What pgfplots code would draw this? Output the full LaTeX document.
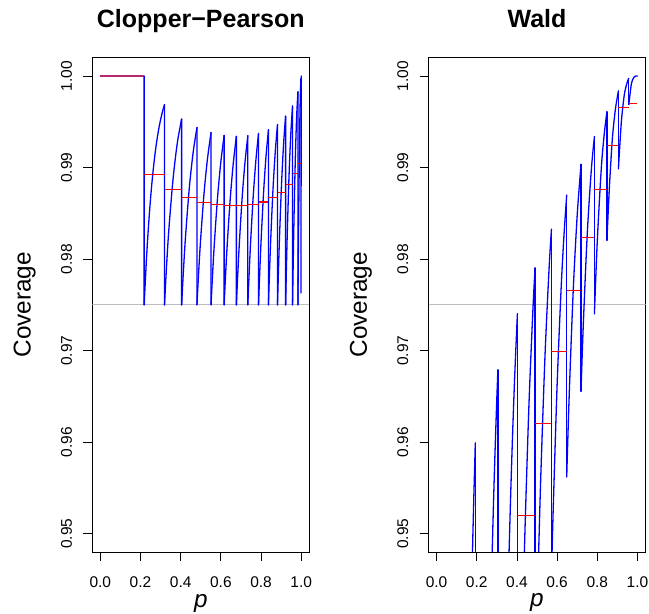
\documentclass[border=0pt]{standalone}
\usepackage{pgfplots}
\pgfplotsset{compat=1.18}
\usepackage{fontspec}
\setmainfont{Liberation Sans}
\definecolor{rgray}{RGB}{190,190,190}
\definecolor{rblue}{RGB}{0,0,255}
\definecolor{rred}{RGB}{255,0,0}
\pgfplotsset{
  rpanel/.style={
    scale only axis, width=217pt, height=494.3pt,
    xmin=-0.04, xmax=1.04, ymin=0.948, ymax=1.002,
    axis line style={black, line width=0.8pt},
    tick align=outside, tick pos=left,
    major tick length=9pt,
    tick style={black, line width=0.8pt},
    xtick={0,0.2,0.4,0.6,0.8,1},
    xticklabels={0.0,0.2,0.4,0.6,0.8,1.0},
    ytick={0.95,0.96,0.97,0.98,0.99,1},
    yticklabels={0.95,0.96,0.97,0.98,0.99,1.00},
    /pgf/number format/assume math mode=true,
    ticklabel style={font=\fontsize{15.5}{18}\selectfont},
    xticklabel style={anchor=base, yshift=-26.8pt},
    yticklabel style={xshift=-11.3pt, rotate=90, anchor=base},
    every axis title/.style={at={(axis description cs:0.5,1)}, anchor=base, yshift=30.4pt, font=\bfseries\fontsize{25}{30}\selectfont},
    every axis x label/.style={at={(axis description cs:0.5,0)}, anchor=base, yshift=-55pt, font=\fontsize{24.3}{29}\selectfont},
    every axis y label/.style={at={(axis description cs:0,0.5)}, xshift=-61.6pt, rotate=90, anchor=base, font=\fontsize{24.3}{29}\selectfont},
    xlabel={\textit{p}}, ylabel={Coverage},
  },
  bl/.style={rblue, line width=1.3pt, line cap=round, line join=round},
  bs/.style={rblue, line width=1.3pt, line cap=round, line join=round, smooth},
  rs/.style={rred, line width=1.2pt},
}
\begin{document}
\begin{tikzpicture}[x=1pt,y=1pt]
\path[use as bounding box] (0,0) rectangle (649,614);
% ---------------- Clopper-Pearson ----------------
\begin{axis}[rpanel, at={(92.3pt,62pt)}, anchor=south west, title={Clopper−Pearson}]
\addplot[rgray, line width=0.9pt] coordinates {(-0.04,0.975) (1.04,0.975)};
% vertical drops and flat start
\addplot[bl, unbounded coords=jump] coordinates {
(0,1) (0.218,1) (0.218,0.975) (0.218,nan)
(0.3195,0.99688) (0.3195,0.975) (0.3195,nan)
(0.4046,0.99530) (0.4046,0.975) (0.4046,nan)
(0.4809,0.99438) (0.4809,0.975) (0.4809,nan)
(0.5510,0.99382) (0.5510,0.975) (0.5510,nan)
(0.6162,0.99351) (0.6162,0.975) (0.6162,nan)
(0.6771,0.99341) (0.6771,0.975) (0.6771,nan)
(0.7341,0.99348) (0.7341,0.975) (0.7341,nan)
(0.7873,0.99372) (0.7873,0.975) (0.7873,nan)
(0.8366,0.99413) (0.8366,0.975) (0.8366,nan)
(0.8818,0.99470) (0.8818,0.975) (0.8818,nan)
(0.9221,0.99561) (0.9221,0.975) (0.9221,nan)
(0.9567,0.99672) (0.9567,0.975) (0.9567,nan)
(0.9834,0.99828) (0.9834,0.975) (0.9834,nan)
(0.99831,0.99971) (0.99831,0.9763) (0.9992,0.98807) (1,1)
};
\addplot[bs] coordinates {(0.218,0.975) (0.23,0.98017) (0.24,0.98370) (0.25,0.98664) (0.26,0.98907) (0.27,0.99109) (0.28,0.99276) (0.29,0.99413) (0.30,0.99525) (0.31,0.99617) (0.3195,0.99688)};
\addplot[bs] coordinates {(0.3195,0.975) (0.32801,0.97862) (0.340775,0.98316) (0.36205,0.98877) (0.383325,0.99272) (0.4046,0.99530)};
\addplot[bs] coordinates {(0.4046,0.975) (0.41223,0.97820) (0.423675,0.98235) (0.44275,0.98776) (0.461825,0.99164) (0.4809,0.99438)};
\addplot[bs] coordinates {(0.4809,0.975) (0.48791,0.97798) (0.498425,0.98191) (0.51595,0.98714) (0.533475,0.99100) (0.5510,0.99382)};
\addplot[bs] coordinates {(0.5510,0.975) (0.55752,0.97787) (0.5673,0.98166) (0.5836,0.98679) (0.5999,0.99065) (0.6162,0.99351)};
\addplot[bs] coordinates {(0.6162,0.975) (0.62229,0.97781) (0.631425,0.98154) (0.64665,0.98663) (0.661875,0.99051) (0.6771,0.99341)};
\addplot[bs] coordinates {(0.6771,0.975) (0.6828,0.97780) (0.69135,0.98153) (0.7056,0.98664) (0.71985,0.99055) (0.7341,0.99348)};
\addplot[bs] coordinates {(0.7341,0.975) (0.73942,0.97783) (0.7474,0.98161) (0.7607,0.98679) (0.774,0.99075) (0.7873,0.99372)};
\addplot[bs] coordinates {(0.7873,0.975) (0.79223,0.97790) (0.799625,0.98178) (0.81195,0.98709) (0.824275,0.99114) (0.8366,0.99413)};
\addplot[bs] coordinates {(0.8366,0.975) (0.84112,0.97803) (0.8479,0.98207) (0.8592,0.98756) (0.8705,0.99169) (0.8818,0.99470)};
\addplot[bs] coordinates {(0.8818,0.975) (0.88583,0.97821) (0.891875,0.98248) (0.90195,0.98826) (0.912025,0.99257) (0.9221,0.99561)};
\addplot[bs] coordinates {(0.9221,0.975) (0.92556,0.97849) (0.93075,0.98310) (0.9394,0.98926) (0.94805,0.99372) (0.9567,0.99672)};
\addplot[bs] coordinates {(0.9567,0.975) (0.95937,0.97883) (0.963375,0.98390) (0.97005,0.99063) (0.976725,0.99537) (0.9834,0.99828)};
\addplot[bs] coordinates {(0.9834,0.975) (0.984891,0.97903) (0.987128,0.98450) (0.990855,0.99188) (0.994583,0.99709) (0.99831,0.99971)};
% mean coverage per interval
\addplot[rred, opacity=0.55, line width=1.5pt] coordinates {(0,1) (0.218,1)};
\addplot[rs] coordinates {(0.218,0.98926) (0.3195,0.98926)};
\addplot[rs] coordinates {(0.3195,0.98758) (0.4046,0.98758)};
\addplot[rs] coordinates {(0.4046,0.98675) (0.4809,0.98675)};
\addplot[rs] coordinates {(0.4809,0.98620) (0.5510,0.98620)};
\addplot[rs] coordinates {(0.5510,0.98594) (0.6162,0.98594)};
\addplot[rs] coordinates {(0.6162,0.98583) (0.6771,0.98583)};
\addplot[rs] coordinates {(0.6771,0.98583) (0.7341,0.98583)};
\addplot[rs] coordinates {(0.7341,0.98598) (0.7873,0.98598)};
\addplot[rs] coordinates {(0.7873,0.98623) (0.8366,0.98623)};
\addplot[rs] coordinates {(0.8366,0.98670) (0.8818,0.98670)};
\addplot[rs] coordinates {(0.8818,0.98729) (0.9221,0.98729)};
\addplot[rs] coordinates {(0.9221,0.98817) (0.9567,0.98817)};
\addplot[rs] coordinates {(0.9567,0.98933) (0.9834,0.98933)};
\addplot[rs] coordinates {(0.9834,0.99046) (0.99831,0.99046)};
\addplot[rs] coordinates {(0.99831,0.98740) (1,0.98740)};
\end{axis}
% ---------------- Wald ----------------
\begin{axis}[rpanel, at={(428.5pt,62pt)}, anchor=south west, title={Wald}]
\addplot[rgray, line width=0.9pt] coordinates {(-0.04,0.975) (1.04,0.975)};
\addplot[bl, unbounded coords=jump] coordinates {
(0.192903,0.95990) (0.192903,0.8161) (0.192903,nan)
(0.305364,0.96789) (0.305364,0.88209) (0.305364,nan)
(0.40243,0.97402) (0.40243,0.91252) (0.40243,nan)
(0.49046,0.97903) (0.49046,0.93163) (0.49046,nan)
(0.571896,0.98325) (0.571896,0.94530) (0.571896,nan)
(0.647923,0.98698) (0.647923,0.95621) (0.647923,nan)
(0.719139,0.99035) (0.719139,0.96557) (0.719139,nan)
(0.785805,0.99339) (0.785805,0.97403) (0.785805,nan)
(0.847923,0.99608) (0.847923,0.98206) (0.847923,nan)
(0.905229,0.99836) (0.905229,0.98987) (0.905229,nan)
(0.957126,0.99973) (0.957126,0.99688)
};
\addplot[bs] coordinates {(0.175,0.94417) (0.18,0.94904) (0.185,0.95351) (0.192903,0.95990)};
\addplot[bs] coordinates {(0.27,0.94167) (0.28,0.95051) (0.29,0.95816) (0.30,0.96473) (0.305364,0.96789)};
\addplot[bs] coordinates {(0.35,0.93828) (0.36,0.94719) (0.37,0.95498) (0.38,0.96181) (0.39,0.96773) (0.40243,0.97402)};
\addplot[bs] coordinates {(0.43,0.94179) (0.44,0.95025) (0.46,0.96412) (0.48,0.97463) (0.49046,0.97903)};
\addplot[bs] coordinates {(0.50,0.94077) (0.51,0.94945) (0.52,0.95704) (0.54,0.96953) (0.56,0.97891) (0.571896,0.98325)};
\addplot[bs] coordinates {(0.571896,0.94530) (0.58,0.95215) (0.60,0.96617) (0.62,0.97677) (0.635,0.98285) (0.647923,0.98698)};
\addplot[bs] coordinates {(0.647923,0.95621) (0.66,0.96494) (0.68,0.97643) (0.70,0.98476) (0.719139,0.99035)};
\addplot[bs] coordinates {(0.719139,0.96557) (0.73,0.97259) (0.75,0.98270) (0.77,0.98965) (0.785805,0.99339)};
\addplot[bs] coordinates {(0.785805,0.97403) (0.80,0.98194) (0.82,0.98992) (0.835,0.99373) (0.847923,0.99608)};
\addplot[bs] coordinates {(0.847923,0.98206) (0.86,0.98771) (0.875,0.99313) (0.89,0.99634) (0.905229,0.99836)};
\addplot[bs] coordinates {(0.905229,0.98987) (0.92,0.99503) (0.935,0.99801) (0.95,0.99939) (0.957126,0.99973)};
\addplot[bs] coordinates {(0.957126,0.99688) (0.97,0.99915) (0.985,0.99993) (1,1)};
\addplot[rs] coordinates {(0.40243,0.95196) (0.49046,0.95196)};
\addplot[rs] coordinates {(0.49046,0.96206) (0.571896,0.96206)};
\addplot[rs] coordinates {(0.571896,0.96992) (0.647923,0.96992)};
\addplot[rs] coordinates {(0.647923,0.97654) (0.719139,0.97654)};
\addplot[rs] coordinates {(0.719139,0.98233) (0.785805,0.98233)};
\addplot[rs] coordinates {(0.785805,0.98762) (0.847923,0.98762)};
\addplot[rs] coordinates {(0.847923,0.99238) (0.905229,0.99238)};
\addplot[rs] coordinates {(0.905229,0.99658) (0.957126,0.99658)};
\addplot[rs] coordinates {(0.957126,0.99702) (1,0.99702)};
\end{axis}
\end{tikzpicture}
\end{document}
